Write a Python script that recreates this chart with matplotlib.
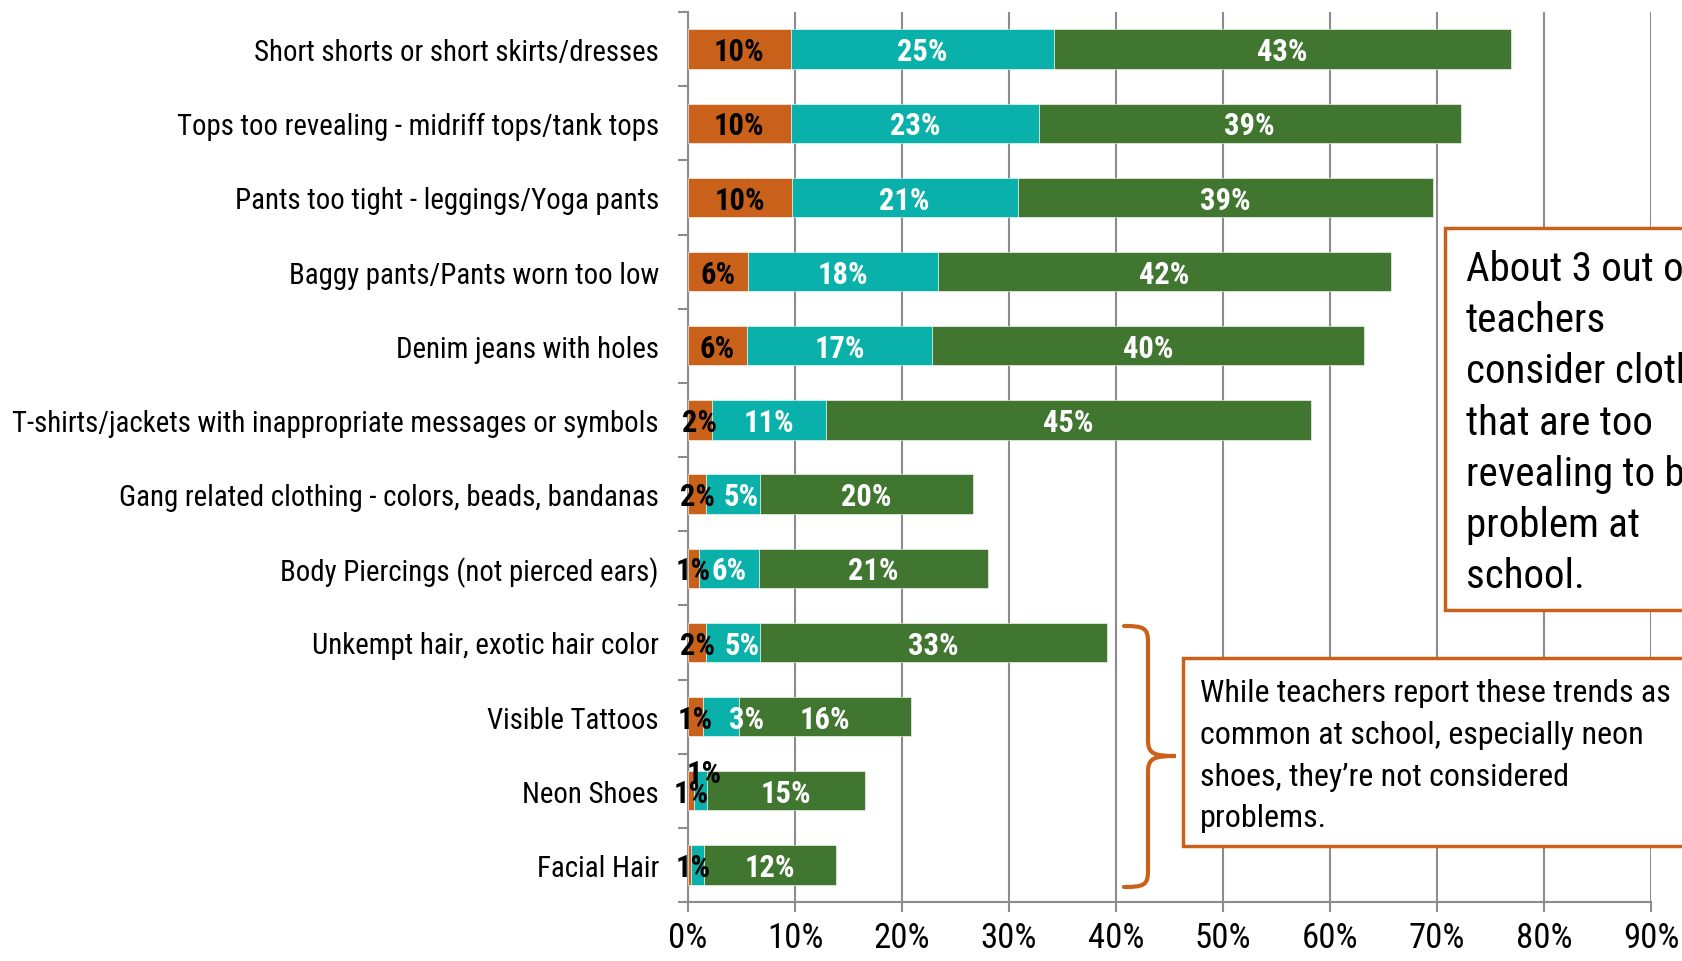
import numpy as np
import matplotlib
matplotlib.use("Agg")
from matplotlib import pyplot as plt
from matplotlib.patches import Rectangle, PathPatch
from matplotlib.path import Path

plt.rcParams['font.family'] = ['Roboto Condensed', 'DejaVu Sans']

# categories, top to bottom
categories = [
    "Short shorts or short skirts/dresses",
    "Tops too revealing - midriff tops/tank tops",
    "Pants too tight - leggings/Yoga pants",
    "Baggy pants/Pants worn too low",
    "Denim jeans with holes",
    "T-shirts/jackets with inappropriate messages or symbols",
    "Gang related clothing - colors, beads, bandanas",
    "Body Piercings (not pierced ears)",
    "Unkempt hair, exotic hair color",
    "Visible Tattoos",
    "Neon Shoes",
    "Facial Hair",
]

# segment lengths in percent
orange = [9.6, 9.6, 9.7, 5.6, 5.5, 2.2, 1.7, 1.0, 1.7, 1.4, 0.6, 0.3]
teal = [24.6, 23.2, 21.1, 17.8, 17.3, 10.7, 5.0, 5.6, 5.0, 3.4, 1.2, 1.2]
green = [42.7, 39.4, 38.8, 42.3, 40.4, 45.3, 19.9, 21.4, 32.5, 16.0, 14.7, 12.3]

# data labels as printed on the chart
orange_lbl = ['10%', '10%', '10%', '6%', '6%', '2%', '2%', '1%', '2%', '1%', '1%', '1%']
teal_lbl = ['25%', '23%', '21%', '18%', '17%', '11%', '5%', '6%', '5%', '3%', '1%', '']
green_lbl = ['43%', '39%', '39%', '42%', '40%', '45%', '20%', '21%', '33%', '16%', '15%', '12%']

xticks = [0, 10, 20, 30, 40, 50, 60, 70, 80, 90]

C_ORANGE = '#C9611A'
C_TEAL = '#0AB1AA'
C_GREEN = '#417631'
C_GRID = '#8C8C8C'
C_BOX = '#C9611A'

W, H = 1682, 962
fig = plt.figure(figsize=(W / 100, H / 100), dpi=100)
ax = fig.add_axes([688 / W, 1 - 903 / H, 963 / W, (903 - 13) / H])

y = np.arange(len(categories))
left2 = np.array(orange)
left3 = left2 + np.array(teal)
bh = 0.53
ax.barh(y, orange, height=bh, color=C_ORANGE, edgecolor='white', linewidth=0.4, zorder=3)
ax.barh(y, teal, left=left2, height=bh, color=C_TEAL, edgecolor='white', linewidth=0.4, zorder=3)
ax.barh(y, green, left=left3, height=bh, color=C_GREEN, edgecolor='white', linewidth=0.4, zorder=3)

# label nudges: (row, series) -> (dx, dy, colour)
nudge = {(10, 'teal'): (0.3, -0.27, 'black'),
         (9, 'teal'): (2.4, 0.0, 'white'),
         (8, 'teal'): (0.9, 0.0, 'white'),
         (6, 'teal'): (0.8, 0.0, 'white'),
         (11, 'orange'): (0.3, 0.0, 'black')}

lbl_font = dict(fontsize=22, fontweight='bold', ha='center', va='center', zorder=5)
for i in y:
    for name, lefts, widths, labels, col in (
            ('orange', np.zeros(len(y)), orange, orange_lbl, 'black'),
            ('teal', left2, teal, teal_lbl, 'white'),
            ('green', left3, green, green_lbl, 'white')):
        if not labels[i]:
            continue
        dx, dy, c = nudge.get((i, name), (0, 0, col))
        ax.text(lefts[i] + widths[i] / 2 + dx, i + dy + 0.03, labels[i], color=c, **lbl_font)

ax.set_xlim(0, 90)
ax.set_ylim(len(y) - 0.5, -0.5)
ax.set_xticks(xticks)
ax.set_xticklabels([f"{t}%" for t in xticks], fontsize=25)
ax.tick_params(axis='x', length=7, width=1.5, color=C_GRID, pad=7)

ax.set_yticks(np.arange(-0.5, len(y)))
ax.set_yticklabels([])
ax.set_yticks(y, minor=True)
ax.set_yticklabels(categories, minor=True, fontsize=20.8)
ax.tick_params(axis='y', which='major', length=7, width=1.5, color=C_GRID, direction='out')
ax.tick_params(axis='y', which='minor', length=0, pad=21)

ax.grid(axis='x', color=C_GRID, linewidth=1.5, zorder=0)
ax.set_axisbelow(True)
for side in ('top', 'right'):
    ax.spines[side].set_visible(False)
for side in ('left', 'bottom'):
    ax.spines[side].set_color(C_GRID)
    ax.spines[side].set_linewidth(1.5)


def fx(px):
    return px / W


def fy(py):
    return 1 - py / H


# box 1
fig.patches.append(Rectangle((fx(1445), fy(611)), fx(1720) - fx(1445), fy(229) - fy(611),
                             transform=fig.transFigure, facecolor='white', edgecolor=C_BOX,
                             linewidth=2.5, zorder=10))
box1 = ["About 3 out of 4", "teachers", "consider clothes", "that are too",
        "revealing to be a", "problem at", "school."]
for k, line in enumerate(box1):
    fig.text(fx(1466), fy(281 + 51.2 * k), line, fontsize=29.5, va='baseline', ha='left', zorder=11)

# box 2
fig.patches.append(Rectangle((fx(1183), fy(847)), fx(1720) - fx(1183), fy(659) - fy(847),
                             transform=fig.transFigure, facecolor='white', edgecolor=C_BOX,
                             linewidth=2.5, zorder=10))
box2 = ["While teachers report these trends as", "common at school, especially neon",
        "shoes, they\u2019re not considered", "problems."]
for k, line in enumerate(box2):
    fig.text(fx(1200), fy(702 + 41.8 * k), line, fontsize=23, va='baseline', ha='left', zorder=11)

# curly brace
xa, xb, xt = 1124, 1148, 1176
ya, ym, yb = 627, 757, 888
verts = [(xa, ya), (xb - 4, ya), (xb, ya + 2), (xb, ya + 16),
         (xb, ym - 16),
         (xb, ym - 2), (xb + 6, ym), (xt, ym),
         (xb + 6, ym), (xb, ym + 2), (xb, ym + 16),
         (xb, yb - 16),
         (xb, yb - 2), (xb - 4, yb), (xa, yb)]
codes = [Path.MOVETO, Path.CURVE4, Path.CURVE4, Path.CURVE4,
         Path.LINETO,
         Path.CURVE4, Path.CURVE4, Path.CURVE4,
         Path.CURVE4, Path.CURVE4, Path.CURVE4,
         Path.LINETO,
         Path.CURVE4, Path.CURVE4, Path.CURVE4]
brace = Path([(fx(a), fy(b)) for a, b in verts], codes)
fig.patches.append(PathPatch(brace, transform=fig.transFigure, facecolor='none',
                             edgecolor=C_BOX, linewidth=3, capstyle='round'))

fig.savefig("out.png", dpi=100)
